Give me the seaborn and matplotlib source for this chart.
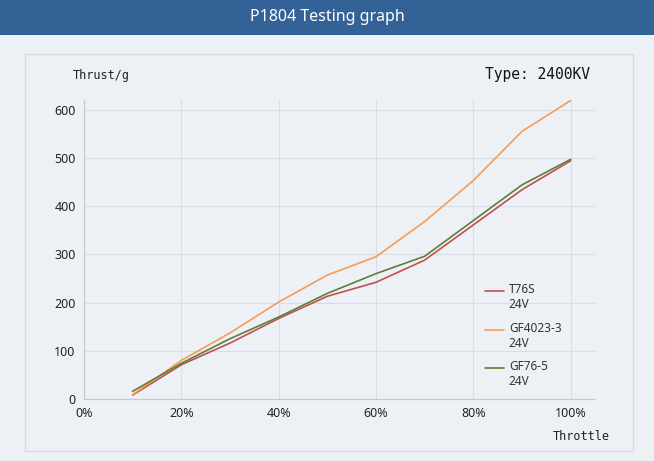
import matplotlib
matplotlib.use('Agg')
import matplotlib.pyplot as plt
import pandas as pd
import seaborn as sns
from matplotlib.patches import Rectangle
from matplotlib.ticker import PercentFormatter

# Data
throttle = [10, 20, 30, 40, 50, 60, 70, 80, 90, 100]
t76s = [8, 71, 116, 167, 213, 242, 288, 361, 434, 494]
gf4023 = [9, 80, 137, 201, 257, 295, 368, 453, 555, 619]
gf765 = [16, 74, 125, 170, 219, 260, 296, 370, 444, 497]
series_names = ['T76S\n24V', 'GF4023-3\n24V', 'GF76-5\n24V']
colors = ['#c0504d', '#f59d56', '#5b7f3a']

df = pd.DataFrame({
    'Throttle': throttle * 3,
    'Thrust': t76s + gf4023 + gf765,
    'Motor': [series_names[0]] * 10 + [series_names[1]] * 10 + [series_names[2]] * 10,
})

sns.set_style('white')
plt.rcParams['font.family'] = ['Noto Sans', 'DejaVu Sans']

fig = plt.figure(figsize=(6.54, 4.61), dpi=100)
fig.patch.set_facecolor('#edf1f6')

# title bar and panel
fig.patches.append(Rectangle((0, 1 - 35 / 461), 1, 35 / 461, transform=fig.transFigure,
                             facecolor='#336396', edgecolor='none', zorder=-2))
fig.patches.append(Rectangle((25 / 654, 1 - 451 / 461), 608 / 654, 397 / 461, transform=fig.transFigure,
                             facecolor='#edf1f6', edgecolor='#d8dce2', linewidth=1, zorder=-2))
fig.text(0.5, 1 - 17 / 461, 'P1804 Testing graph', color='white', fontsize=11.5,
         ha='center', va='center')

ax = fig.add_axes([84 / 654, 1 - 399 / 461, (595 - 84) / 654, (399 - 100) / 461])
ax.set_zorder(1)
ax.set_facecolor('#edf1f6')

sns.lineplot(data=df, x='Throttle', y='Thrust', hue='Motor', palette=colors,
             linewidth=1.2, ax=ax)

ax.set_xlim(0, 105)
ax.set_ylim(0, 620)
ax.set_xticks([0, 20, 40, 60, 80, 100])
ax.set_yticks([0, 100, 200, 300, 400, 500, 600])
ax.xaxis.set_major_formatter(PercentFormatter(decimals=0))
ax.grid(True, color='#d9dee6', linewidth=0.8)
ax.set_axisbelow(True)
for side in ['top', 'right']:
    ax.spines[side].set_visible(False)
for side in ['left', 'bottom']:
    ax.spines[side].set_color('#c5cad1')
    ax.spines[side].set_linewidth(0.9)
ax.tick_params(length=0, labelsize=9, colors='#222222', pad=6)
ax.set_xlabel('')
ax.set_ylabel('')

leg = ax.legend(loc='lower right', bbox_to_anchor=(0.955, 0.0), frameon=False,
                fontsize=8.5, handlelength=1.6, labelspacing=0.9, handletextpad=0.4)
for t in leg.get_texts():
    t.set_color('#333333')
# put each legend line next to the first text line
for h in leg.legend_handles:
    y = h.get_ydata()
    h.set_ydata([v + 5 for v in y])

fig.text(73 / 654, 1 - 75 / 461, 'Thrust/g', family='DejaVu Sans Mono', fontsize=8.5,
         color='#222222', va='center')
fig.text(485 / 654, 1 - 75 / 461, 'Type: 2400KV', family='DejaVu Sans Mono', fontsize=10.5,
         color='#111111', va='center')
fig.text(553 / 654, 1 - 436 / 461, 'Throttle', family='DejaVu Sans Mono', fontsize=8.5,
         color='#222222', va='center')

fig.savefig('out.png', dpi=100, facecolor=fig.get_facecolor())
